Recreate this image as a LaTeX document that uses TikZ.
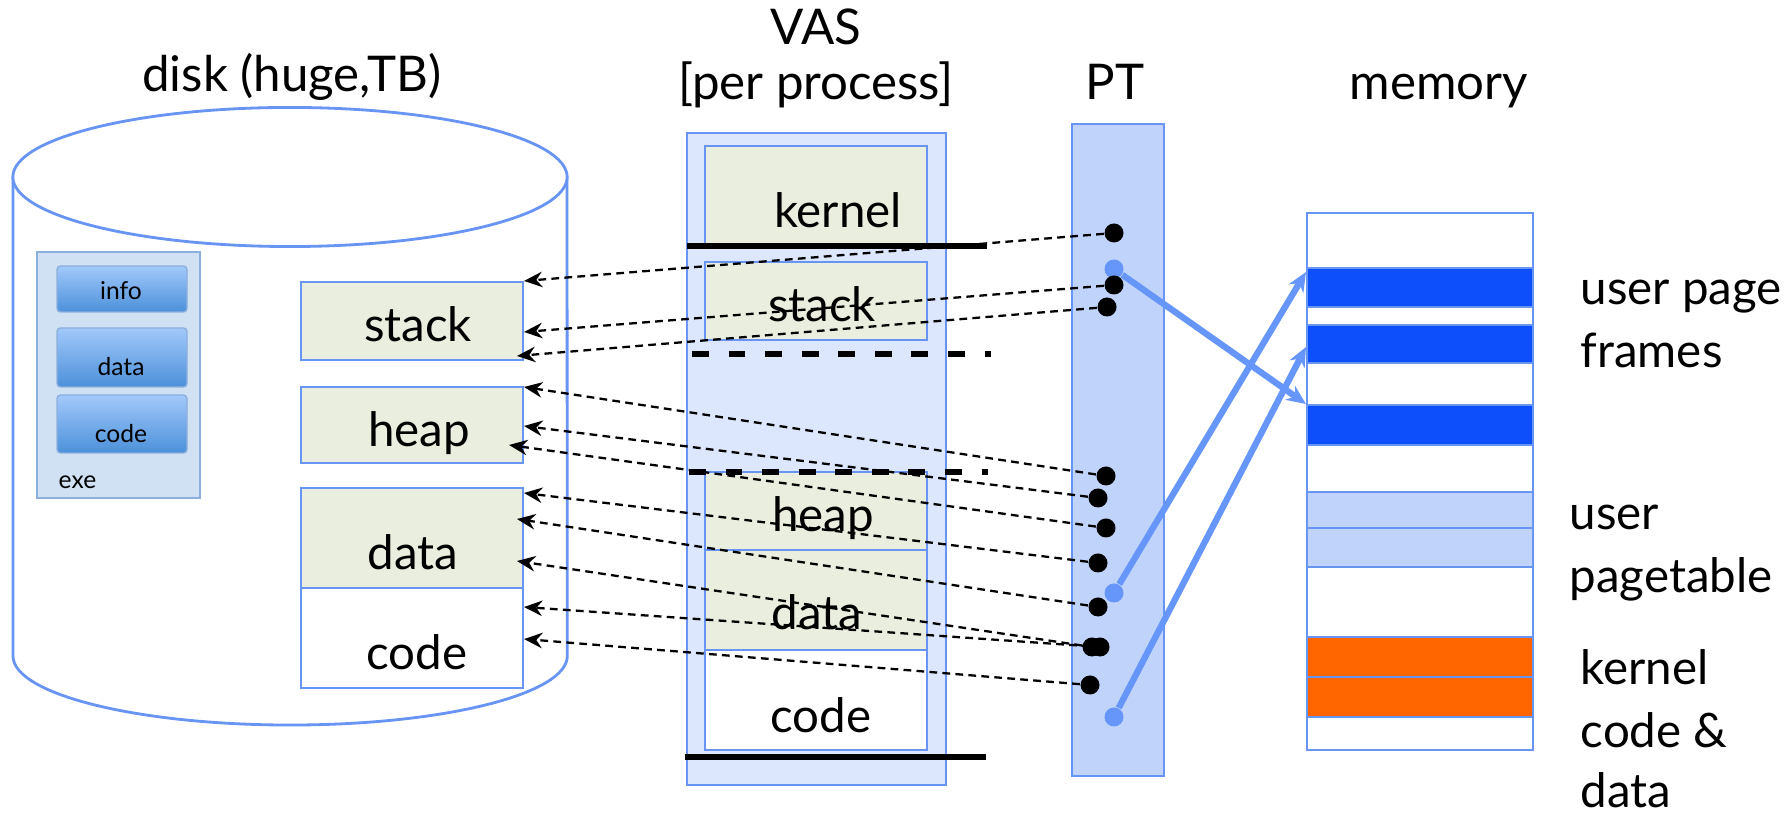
\documentclass[tikz,border=0pt]{standalone}
\usepackage{fontspec}
\setmainfont{Lato}
\usetikzlibrary{arrows.meta,positioning}

\definecolor{rim}{RGB}{104,148,244}
\definecolor{segfill}{RGB}{234,238,222}
\definecolor{vasfill}{RGB}{220,230,253}
\definecolor{ptfill}{RGB}{192,211,250}
\definecolor{framefill}{RGB}{13,80,251}
\definecolor{kernfill}{RGB}{255,102,0}
\definecolor{exefill}{RGB}{208,225,243}
\definecolor{exerim}{RGB}{140,175,222}
\definecolor{ptrblue}{RGB}{102,150,250}

\begin{document}
\begin{tikzpicture}[x=0.01cm,y=-0.01cm,
  every node/.style={inner sep=0pt},
  title/.style={font=\fontsize{14}{16}\selectfont, anchor=base},
  lbl/.style={font=\fontsize{13.5}{16}\selectfont, anchor=base},
  side/.style={font=\fontsize{13.5}{16}\selectfont, anchor=base west},
  tiny/.style={font=\fontsize{7}{8}\selectfont, anchor=base},
  seg/.style={draw=rim, line width=0.8pt, fill=segfill},
  blank/.style={draw=rim, line width=0.8pt, fill=white},
  btn/.style={draw=exerim, line width=0.4pt, rounded corners=1pt,
    top color={rgb,255:red,162;green,201;blue,250},
    bottom color={rgb,255:red,76;green,144;blue,218}},
  bound/.style={line width=1.5pt},
  dot/.style={circle, fill=black, minimum size=0.19cm},
  bdot/.style={circle, fill=ptrblue, minimum size=0.19cm},
  ptr/.style={line width=0.65pt, dash pattern=on 2.2pt off 1.5pt,
    -{Stealth[length=5.2pt, width=4.4pt]}},
  map/.style={ptrblue, line width=1.8pt, -{Stealth[length=5.5pt, width=4.8pt]}}]
\useasboundingbox (0,0) rectangle (1790,816);

% titles
\node[title] (tdisk) at (292,92) {disk (huge,TB)};
\node[title] (tvas) at (816,45) {VAS};
\node[title] (tper) at (816,100) {[per process]};
\node[title] (tpt) at (1115,100) {PT};
\node[title] (tmem) at (1439,100) {memory};

% disk
\draw[blank] (13,177) -- (13,656)
  arc[start angle=180, end angle=360, x radius=2.77cm, y radius=0.69cm] -- (567,177);
\draw[blank] (290,177) ellipse[x radius=2.77cm, y radius=0.695cm];

% exe file
\draw[draw=exerim, line width=0.6pt, fill=exefill] (37,252) rectangle (200,498);
\draw[btn] (57,266) rectangle (187,312);
\draw[btn] (57,328) rectangle (187,387);
\draw[btn] (57,395) rectangle (187,453);
\node[tiny] (binfo) at (121,300) {info};
\node[tiny] (bdata) at (121,376) {data};
\node[tiny] (bcode) at (121,443) {code};
\node[tiny, anchor=base west] (exe) at (58,489) {exe};

% segments on disk
\draw[seg] (301,282) rectangle (523,360);
\draw[seg] (301,387) rectangle (523,463);
\draw[seg] (301,488) rectangle (523,588);
\draw[blank] (301,588) rectangle (523,688);
\node[lbl] (dstack) at (418,342) {stack};
\node[lbl] (dheap) at (419,447) {heap};
\node[lbl] (ddata) at (413,570) {data};
\node[lbl] (dcode) at (417,670) {code};

% virtual address space
\draw[draw=rim, line width=0.8pt, fill=vasfill] (687,133) rectangle (946,785);
\draw[seg] (705,146) rectangle (927,245);
\draw[seg] (705,262) rectangle (927,340);
\draw[seg] (705,472) rectangle (927,550);
\draw[seg] (705,550) rectangle (927,650);
\draw[blank] (705,650) rectangle (927,750);
\node[lbl] (vkernel) at (838,228) {kernel};
\node[lbl] (vstack) at (822,322) {stack};
\node[lbl] (vheap) at (823,532) {heap};
\node[lbl] (vdata) at (817,630) {data};
\node[lbl] (vcode) at (821,733) {code};
\draw[bound] (687,246) -- (987,246);
\draw[bound, dash pattern=on 4.8pt off 5.6pt] (692,354) -- (991,354);
\draw[bound, dash pattern=on 4.8pt off 5.6pt] (689,472) -- (988,472);
\draw[bound] (685,757) -- (986,757);

% page table
\draw[draw=rim, line width=0.8pt, fill=ptfill] (1072,124) rectangle (1164,776);

% physical memory
\draw[blank] (1307,213) rectangle (1533,750);
\draw[draw=rim, line width=0.8pt, fill=framefill] (1307,268) rectangle (1533,307);
\draw[draw=rim, line width=0.8pt, fill=framefill] (1307,325) rectangle (1533,363);
\draw[draw=rim, line width=0.8pt, fill=framefill] (1307,405) rectangle (1533,445);
\draw[draw=rim, line width=0.8pt, fill=ptfill] (1307,492) rectangle (1533,528);
\draw[draw=rim, line width=0.8pt, fill=ptfill] (1307,528) rectangle (1533,567);
\draw[draw=rim, line width=0.8pt, fill=kernfill] (1307,637) rectangle (1533,677);
\draw[draw=rim, line width=0.8pt, fill=kernfill] (1307,677) rectangle (1533,717);
\node[side] (mupage) at (1580,305) {user page};
\node[side] (mframes) at (1580,368) {frames};
\node[side] (muser) at (1569,530) {user};
\node[side] (mpt) at (1569,593) {pagetable};
\node[side] (mkernel) at (1580,685) {kernel};
\node[side] (mcode) at (1580,748) {code \&};
\node[side] (mdata) at (1580,808) {data};

% pointer ends
\coordinate (s1) at (524,281);
\coordinate (s2) at (524,332);
\coordinate (s3) at (517,356);
\coordinate (s4) at (524,387);
\coordinate (s5) at (524,426);
\coordinate (s6) at (509,445);
\coordinate (s7) at (524,493);
\coordinate (s8) at (517,519);
\coordinate (s9) at (517,561);
\coordinate (s10) at (524,607);
\coordinate (s11) at (524,639);
\coordinate (m1) at (1306,404);
\coordinate (m2) at (1306,272);
\coordinate (m3) at (1306,347);

% entries mapped to memory
\node[bdot] (q1) at (1114,269) {};
\node[bdot] (q2) at (1114,593) {};
\node[bdot] (q3) at (1114,717) {};
\draw[map] (q1) -- (m1);
\draw[map] (q2) -- (m2);
\draw[map] (q3) -- (m3);

% entries pointing to disk
\node[dot] (p1) at (1114,233) {};
\node[dot] (p2) at (1114,285) {};
\node[dot] (p3) at (1107,307) {};
\node[dot] (p4) at (1106,476) {};
\node[dot] (p5) at (1098,498) {};
\node[dot] (p6) at (1106,528) {};
\node[dot] (p7) at (1098,563) {};
\node[dot] (p8) at (1098,607) {};
\node[dot] (p9) at (1092,647) {};
\node[dot] (p10) at (1100,647) {};
\node[dot] (p11) at (1090,685) {};
\foreach \i in {1,...,11}
  \draw[ptr] (p\i) -- (s\i);
\end{tikzpicture}
\end{document}
